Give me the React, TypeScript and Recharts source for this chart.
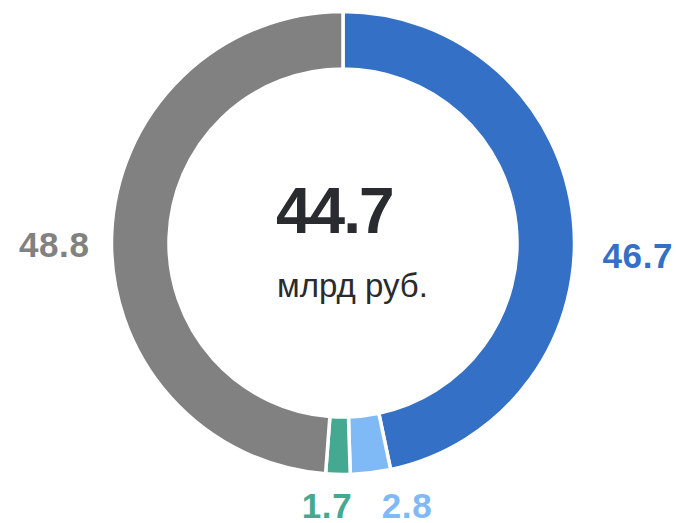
import React from 'react';
import { PieChart, Pie, Cell } from 'recharts';

// slice order: clockwise from 12 o'clock
const names = ['Сегмент 1', 'Сегмент 2', 'Сегмент 3', 'Сегмент 4'];
const values = [46.7, 2.8, 1.7, 48.8];
const colors = ['#3470c5', '#7fb9f6', '#45a991', '#818181'];

const centerValue = '44.7';
const centerUnit = 'млрд руб.';

const data = names.map((name, i) => ({ name, value: values[i] }));

const FONT = '"Liberation Sans", Arial, sans-serif';
const RAD = Math.PI / 180;

const renderLabel = (props: any) => {
    const { cx, cy, outerRadius, midAngle, percent, index, value } = props;
    const cos = Math.cos(-midAngle * RAD);
    let x: number;
    let y: number;
    let anchor: 'start' | 'end' | 'middle';
    if (percent > 0.2) {
        // big slices: labels at the left / right side of the ring
        const right = cos > 0;
        x = right ? cx + outerRadius + 28 : cx - outerRadius - 22;
        y = cy + (right ? 25 : 14);
        anchor = right ? 'start' : 'end';
    } else {
        // small slices: labels under the ring, pushed apart
        x = cx + 24 + (cos > 0 ? 40 : -40);
        y = cy + outerRadius + 43;
        anchor = 'middle';
    }
    return (
        <text
            x={x}
            y={y}
            textAnchor={anchor}
            fill={colors[index]}
            fontFamily={FONT}
            fontWeight="bold"
            fontSize={35}
            letterSpacing={0.6}
        >
            {value}
        </text>
    );
};

export default function App() {
    return (
        <div style={{ position: 'absolute', left: 0, top: 0, width: 676, height: 523, background: '#fff' }}>
            <PieChart width={676} height={523} margin={{ top: 0, right: 0, bottom: 0, left: 0 }}>
                <Pie
                    data={data}
                    dataKey="value"
                    cx={343}
                    cy={243}
                    innerRadius={174}
                    outerRadius={231.5}
                    startAngle={90}
                    endAngle={-270}
                    stroke="#ffffff"
                    strokeWidth={3.5}
                    label={renderLabel}
                    labelLine={false}
                    isAnimationActive={false}
                >
                    {data.map((d, i) => (
                        <Cell key={d.name} fill={colors[i]} />
                    ))}
                </Pie>
                <text x={276} y={233} fontFamily={FONT} fontWeight="bold" fontSize={64} letterSpacing={-2} fill="#2a2b2e">
                    {centerValue}
                </text>
                <text x={277} y={297} fontFamily={FONT} fontSize={33} fill="#2a2b2e">
                    {centerUnit}
                </text>
            </PieChart>
        </div>
    );
}
